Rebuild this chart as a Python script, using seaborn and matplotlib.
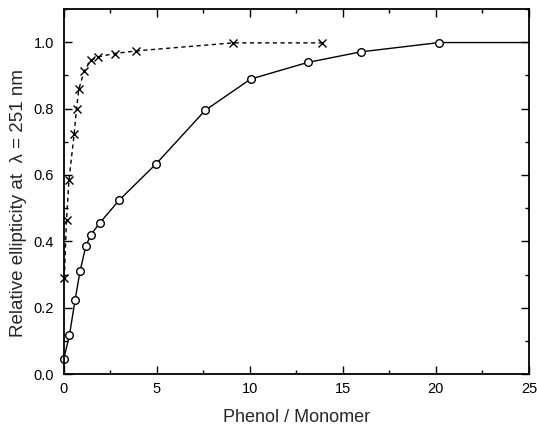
import matplotlib
matplotlib.use("Agg")
import matplotlib.pyplot as plt
from matplotlib.ticker import MultipleLocator, FormatStrFormatter
import seaborn as sns
import pandas as pd

# Circles (solid line)
circ_x = [0.0, 0.3, 0.6, 0.87, 1.18, 1.45, 1.94, 2.97, 4.95, 7.6, 10.04, 13.1, 15.97, 20.18, 25.0]
circ_y = [0.047, 0.118, 0.223, 0.311, 0.386, 0.42, 0.456, 0.524, 0.633, 0.795, 0.889, 0.939, 0.971, 0.999, 0.999]

# Crosses (dashed line)
cross_x = [0.02, 0.14, 0.27, 0.55, 0.68, 0.8, 1.09, 1.45, 1.84, 2.74, 3.9, 9.1, 13.85]
cross_y = [0.289, 0.464, 0.584, 0.723, 0.80, 0.858, 0.913, 0.946, 0.956, 0.966, 0.974, 0.998, 0.998]

sns.set_style("ticks")
plt.rcParams["font.family"] = ["Liberation Sans", "DejaVu Sans"]

fig = plt.figure(figsize=(5.37, 4.30), dpi=100)
ax = fig.add_axes([0.119, 0.130, 0.866, 0.849])

df_c = pd.DataFrame({"x": circ_x, "y": circ_y})
df_x = pd.DataFrame({"x": cross_x, "y": cross_y})

sns.lineplot(data=df_c, x="x", y="y", ax=ax, color="black", lw=1.0,
             marker="o", markersize=5.5, markerfacecolor="white",
             markeredgecolor="black", markeredgewidth=1.0,
             markevery=list(range(len(circ_x) - 1)), sort=False, clip_on=False)
sns.lineplot(data=df_x, x="x", y="y", ax=ax, color="black", lw=1.0,
             linestyle=(0, (3, 2.5)), marker="x", markersize=5.5,
             markeredgecolor="black", markeredgewidth=1.0, sort=False, clip_on=False)

ax.set_xlim(0, 25)
ax.set_ylim(0, 1.1)
ax.xaxis.set_major_locator(MultipleLocator(5))
ax.xaxis.set_minor_locator(MultipleLocator(2.5))
ax.yaxis.set_major_locator(MultipleLocator(0.2))
ax.yaxis.set_minor_locator(MultipleLocator(0.1))
ax.yaxis.set_major_formatter(FormatStrFormatter("%.1f"))
ax.tick_params(which="both", direction="in", top=True, right=True, labelsize=10.5,
               width=1.0, colors="black")
ax.tick_params(which="major", length=6)
ax.tick_params(which="minor", length=3)
ax.tick_params(axis="x", which="major", pad=6)
ax.tick_params(axis="y", which="major", pad=7)
for s in ax.spines.values():
    s.set_visible(True)
    s.set_linewidth(1.3)
    s.set_color("black")

ax.set_xlabel("Phenol / Monomer", fontsize=13, labelpad=9)
ax.set_ylabel("Relative ellipticity at  \u03bb = 251 nm", fontsize=13.5, labelpad=8)
ax.yaxis.set_label_coords(-0.08, 0.47)

fig.savefig("out.png", dpi=100)
